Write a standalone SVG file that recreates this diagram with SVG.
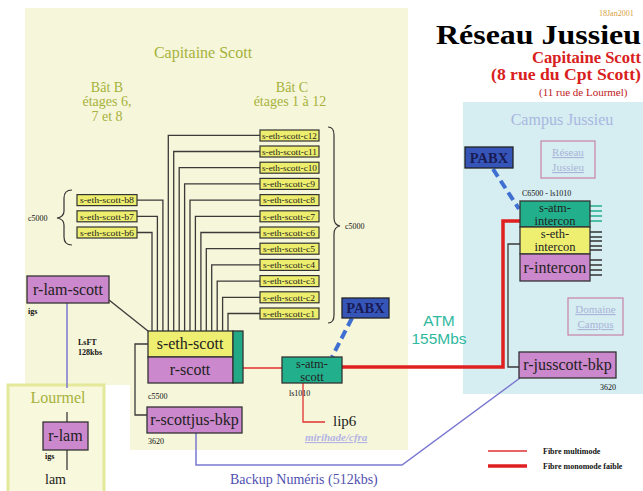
<svg xmlns="http://www.w3.org/2000/svg" width="643" height="491" viewBox="0 0 643 491">
<style>
.serif{font-family:"Liberation Serif","DejaVu Serif",serif}
.sans{font-family:"Liberation Sans","DejaVu Sans",sans-serif}
.sw{fill:#eeee6e;stroke:#333;stroke-width:1.2}
.swt{font-family:"Liberation Serif",serif;font-size:9px;fill:#222}
.pur{fill:#cc88cc;stroke:#333;stroke-width:1.3}
.yel{fill:#eeee70;stroke:#333;stroke-width:1.3}
.tea{fill:#22b08c;stroke:#333;stroke-width:1.3}
.bt{font-family:"Liberation Serif",serif;font-size:16px;fill:#222;text-anchor:middle}
.bt2{font-family:"Liberation Serif",serif;font-size:12.5px;fill:#222;text-anchor:middle}
.sm{font-family:"Liberation Serif",serif;font-size:8px;fill:#111}
.wire{fill:none;stroke:#3a3a3a;stroke-width:1.3}
.blue{fill:none;stroke:#7a78d0;stroke-width:1.5}
.red1{fill:none;stroke:#e03030;stroke-width:1.3}
.red3{fill:none;stroke:#e02020;stroke-width:3.5}
.dash{fill:none;stroke:#3f6fd0;stroke-width:4;stroke-dasharray:9,5}
.pabx{fill:#3556b8;stroke:#222;stroke-width:1.3}
.pabxt{font-family:"Liberation Serif",serif;font-size:14.5px;font-weight:bold;fill:#1a1a55;text-anchor:middle}
.olive{font-family:"Liberation Serif",serif;fill:#a6b23c;text-anchor:middle}
</style>

<g id="regions">
<path d="M25,8 H408 V450 H130 V385 H25 Z" fill="#f6f6da"/>
<rect x="463" y="102" width="180" height="292" fill="#d6edf1"/>
<rect id="lourmel" x="8" y="385" width="96" height="110" fill="#f8f8dc" stroke="#e4e89a" stroke-width="3"/>
</g>

<g id="titles">
<text x="436" y="44" class="serif" font-size="27" font-weight="bold" fill="#000" textLength="205" lengthAdjust="spacingAndGlyphs">Réseau Jussieu</text>
<text x="599" y="16" class="serif" font-size="8" fill="#d8a040">18Jan2001</text>
<text x="532" y="63" class="serif" font-size="17" font-weight="bold" fill="#d82020" textLength="109" lengthAdjust="spacingAndGlyphs">Capitaine Scott</text>
<text x="491" y="80" class="serif" font-size="17" font-weight="bold" fill="#d82020" textLength="150" lengthAdjust="spacingAndGlyphs">(8 rue du Cpt Scott)</text>
<text x="539" y="96" class="serif" font-size="11" fill="#c02020">(11 rue de Lourmel)</text>
<text x="203" y="58" class="olive" font-size="16">Capitaine Scott</text>
<text class="olive" font-size="14"><tspan x="107" y="91.5">Bât B</tspan><tspan x="107" y="106">étages 6,</tspan><tspan x="107" y="120.5">7 et 8</tspan></text>
<text class="olive" font-size="14"><tspan x="292" y="91.5">Bât C</tspan><tspan x="290" y="106">étages 1 à 12</tspan></text>
<text x="562" y="125" class="serif" font-size="16" fill="#a8b8e0" text-anchor="middle">Campus Jussieu</text>
<text x="58" y="403" class="olive" font-size="16">Lourmel</text>
<text class="sans" font-size="15.5" fill="#2fb89e" text-anchor="middle"><tspan x="439" y="326">ATM</tspan><tspan x="439" y="344">155Mbs</tspan></text>
<text x="305" y="441" class="serif" font-size="11" font-weight="bold" font-style="italic" fill="#b4b4e4" text-decoration="underline">mirihade/cfra</text>
<text x="230" y="484" class="serif" font-size="14" fill="#5050b0">Backup Numéris  (512kbs)</text>
</g>

<g id="connectors">
<path class="wire" d="M260,313.5 H228 V331 M260,297.3 H222.6 V331 M260,281.1 H217.2 V331 M260,264.9 H211.7 V331 M260,248.7 H206.3 V331 M260,232.5 H200.9 V331 M260,216.3 H195.4 V331 M260,200.1 H190 V331 M260,183.9 H184.6 V331 M260,167.7 H179.2 V331 M260,151.5 H173.7 V331 M260,135.3 H168.3 V331"/>
<path class="wire" d="M137,200.1 H162.9 V331 M137,216.3 H157.4 V331 M137,232.5 H152 V331"/>
<path class="wire" d="M109,300 L148,331"/>
<path class="wire" d="M148,344 H135 V415 H147"/>
<path class="wire" d="M520,244 H508 V367 H519"/>
<path class="wire" d="M67,450 V470"/>
<path class="wire" d="M67,412 V422"/>
<path fill="none" stroke="#333" stroke-width="1.2" d="M328,127 Q334,127 334,135 V218 Q334,225 340,226 Q334,227 334,234 V315 Q334,323 328,323"/>
<path fill="none" stroke="#333" stroke-width="1.2" d="M72,190 Q64,190 64,198 V211 Q64,217 57,218 Q64,219 64,225 V237 Q64,245 72,245"/>
<path class="blue" d="M67,303 V388"/>
<path class="blue" d="M196,433 V465 H402 L520,378"/>
<path class="red1" d="M243,368 H282"/>
<path class="red1" d="M303,383 V422 H325"/>
<path class="red3" d="M342,367 H503 V221 H520"/>
<path class="dash" d="M352,318 L332,357"/>
<path class="dash" d="M493,169 L519,209"/>
<path fill="none" stroke="#22b08c" stroke-width="1.3" d="M590,206 H602 M590,211 H602 M590,216 H602 M590,221 H602"/>
<path fill="none" stroke="#333" stroke-width="1.3" d="M590,232 H602 M590,237 H602 M590,241 H602 M590,246 H602 M590,250 H602 M590,260 H602 M590,265 H602 M590,270 H602 M590,275 H602"/>
</g>

<g id="labels">
<text x="28" y="221" class="sm" font-size="9">c5000</text>
<text x="345" y="229" class="sm" font-size="9">c5000</text>
<text x="28" y="314" class="sm" font-weight="bold">igs</text>
<text x="78" y="345" class="sm" font-size="7" font-weight="bold">LsFT</text>
<text x="78" y="355" class="sm" font-size="7" font-weight="bold">128kbs</text>
<text x="148" y="399" class="sm" font-size="9">c5500</text>
<text x="148" y="444" class="sm" font-size="9">3620</text>
<text x="289" y="396" class="sm" font-size="9">ls1010</text>
<text x="333" y="426" class="serif" font-size="15" fill="#222">lip6</text>
<text x="522" y="196" class="sm" font-size="9">C6500 - ls1010</text>
<text x="600" y="390" class="sm" font-size="9">3620</text>
<text x="45" y="459" class="sm" font-weight="bold">igs</text>
<text x="45" y="484" class="serif" font-size="14" fill="#222">lam</text>
</g>

<g id="sw-c12"><rect class="sw" x="260" y="130" width="59" height="11"/><text class="swt" x="262" y="138.5" textLength="55" lengthAdjust="spacingAndGlyphs">s-eth-scott-c12</text></g>
<g id="sw-c11"><rect class="sw" x="260" y="146" width="59" height="11"/><text class="swt" x="262" y="154.7" textLength="55" lengthAdjust="spacingAndGlyphs">s-eth-scott-c11</text></g>
<g id="sw-c10"><rect class="sw" x="260" y="162.2" width="59" height="11"/><text class="swt" x="262" y="170.9" textLength="55" lengthAdjust="spacingAndGlyphs">s-eth-scott-c10</text></g>
<g id="sw-c9"><rect class="sw" x="260" y="178.4" width="59" height="11"/><text class="swt" x="263" y="187.1" textLength="52" lengthAdjust="spacingAndGlyphs">s-eth-scott-c9</text></g>
<g id="sw-c8"><rect class="sw" x="260" y="194.6" width="59" height="11"/><text class="swt" x="263" y="203.3" textLength="52" lengthAdjust="spacingAndGlyphs">s-eth-scott-c8</text></g>
<g id="sw-c7"><rect class="sw" x="260" y="210.8" width="59" height="11"/><text class="swt" x="263" y="219.5" textLength="52" lengthAdjust="spacingAndGlyphs">s-eth-scott-c7</text></g>
<g id="sw-c6"><rect class="sw" x="260" y="227" width="59" height="11"/><text class="swt" x="263" y="235.7" textLength="52" lengthAdjust="spacingAndGlyphs">s-eth-scott-c6</text></g>
<g id="sw-c5"><rect class="sw" x="260" y="243.2" width="59" height="11"/><text class="swt" x="263" y="251.9" textLength="52" lengthAdjust="spacingAndGlyphs">s-eth-scott-c5</text></g>
<g id="sw-c4"><rect class="sw" x="260" y="259.4" width="59" height="11"/><text class="swt" x="263" y="268.1" textLength="52" lengthAdjust="spacingAndGlyphs">s-eth-scott-c4</text></g>
<g id="sw-c3"><rect class="sw" x="260" y="275.6" width="59" height="11"/><text class="swt" x="263" y="284.3" textLength="52" lengthAdjust="spacingAndGlyphs">s-eth-scott-c3</text></g>
<g id="sw-c2"><rect class="sw" x="260" y="291.8" width="59" height="11"/><text class="swt" x="263" y="300.5" textLength="52" lengthAdjust="spacingAndGlyphs">s-eth-scott-c2</text></g>
<g id="sw-c1"><rect class="sw" x="260" y="308" width="59" height="11"/><text class="swt" x="263" y="316.7" textLength="52" lengthAdjust="spacingAndGlyphs">s-eth-scott-c1</text></g>
<g id="sw-b8"><rect class="sw" x="77" y="194.6" width="60" height="11"/><text class="swt" x="80" y="203.3" textLength="54" lengthAdjust="spacingAndGlyphs">s-eth-scott-b8</text></g>
<g id="sw-b7"><rect class="sw" x="77" y="210.8" width="60" height="11"/><text class="swt" x="80" y="219.5" textLength="54" lengthAdjust="spacingAndGlyphs">s-eth-scott-b7</text></g>
<g id="sw-b6"><rect class="sw" x="77" y="227" width="60" height="11"/><text class="swt" x="80" y="235.7" textLength="54" lengthAdjust="spacingAndGlyphs">s-eth-scott-b6</text></g>

<g id="r-lam-scott"><rect class="pur" x="27" y="276" width="82" height="27"/><text class="bt" x="68" y="295">r-lam-scott</text></g>

<g id="s-eth-scott"><rect class="yel" x="148" y="331" width="85" height="26"/><text class="bt" x="190" y="349" font-size="15">s-eth-scott</text></g>
<g id="r-scott"><rect class="pur" x="148" y="357" width="85" height="26"/><text class="bt" x="190" y="375">r-scott</text><rect x="233" y="331" width="10" height="52" fill="#22a884" stroke="#333" stroke-width="1.3"/></g>
<g id="r-scottjus-bkp"><rect class="pur" x="147" y="407" width="95" height="26"/><text class="bt" x="194.5" y="425">r-scottjus-bkp</text></g>

<g id="s-atm-scott"><rect class="tea" x="282" y="357" width="60" height="26"/><text class="bt2"><tspan x="312" y="367.5">s-atm-</tspan><tspan x="312" y="380.5">scott</tspan></text></g>
<g id="pabx-scott"><rect class="pabx" x="342" y="298" width="47" height="20"/><text class="pabxt" x="365.5" y="313">PABX</text></g>

<g id="r-lam"><rect class="pur" x="43" y="422" width="45" height="28"/><text class="bt" x="65.5" y="441">r-lam</text></g>

<g id="pabx-jussieu"><rect class="pabx" x="465" y="147" width="48" height="21"/><text class="pabxt" x="489" y="162.5">PABX</text></g>
<g id="reseau-jussieu"><rect x="541" y="141" width="54" height="37" fill="none" stroke="#c88aae" stroke-width="1.3"/><text class="serif" font-size="11" fill="#a8b4d8" text-anchor="middle" text-decoration="underline"><tspan x="568" y="156">Réseau</tspan><tspan x="568" y="171">Jussieu</tspan></text></g>
<g id="domaine-campus"><rect x="568" y="298" width="55" height="37" fill="none" stroke="#c88aae" stroke-width="1.3"/><text class="serif" font-size="11" fill="#a8b4d8" text-anchor="middle" text-decoration="underline"><tspan x="595.5" y="313">Domaine</tspan><tspan x="595.5" y="328">Campus</tspan></text></g>

<g id="s-atm-intercon"><rect class="tea" x="520" y="201" width="70" height="26"/><text class="bt2"><tspan x="555" y="211.5">s-atm-</tspan><tspan x="555" y="224.5">intercon</tspan></text></g>
<g id="s-eth-intercon"><rect class="yel" x="520" y="227" width="70" height="27"/><text class="bt2"><tspan x="555" y="238">s-eth-</tspan><tspan x="555" y="251">intercon</tspan></text></g>
<g id="r-intercon"><rect class="pur" x="520" y="254" width="70" height="27"/><text class="bt" x="555" y="273">r-intercon</text></g>
<g id="r-jusscott-bkp"><rect class="pur" x="519" y="352" width="97" height="26"/><text class="bt" x="567.5" y="370">r-jusscott-bkp</text></g>

<g id="legend">
<line x1="488" y1="451" x2="527" y2="451" stroke="#e03030" stroke-width="1.3"/>
<line x1="488" y1="466" x2="527" y2="466" stroke="#e02020" stroke-width="3.5"/>
<text x="543" y="454" class="sm" font-size="7" font-weight="bold">Fibre multimode</text>
<text x="543" y="469" class="sm" font-size="7" font-weight="bold">Fibre monomode faible</text>
</g>
</svg>
